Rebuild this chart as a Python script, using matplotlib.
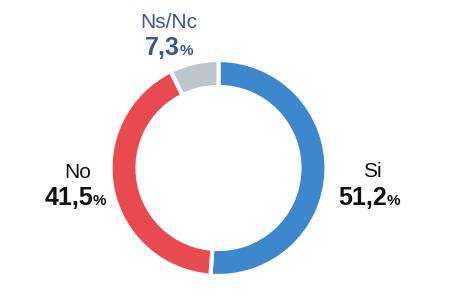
import matplotlib
matplotlib.use("Agg")
import matplotlib.pyplot as plt

labels = ["Si", "No", "Ns/Nc"]
values = [51.2, 41.5, 7.3]
colors = ["#3d88cd", "#e84b4f", "#bcc6cc"]
label_colors = ["#111111", "#111111", "#3a5595"]

W, H = 450, 303
fig = plt.figure(figsize=(4.5, 3.03), dpi=100)
ax = fig.add_axes([0, 0, 1, 1])

wedges, _ = ax.pie(values, colors=colors, startangle=90, counterclock=False,
                   center=(218.5, H - 168), radius=108,
                   wedgeprops=dict(width=27, edgecolor="white", linewidth=3))
ax.set_xlim(0, W)
ax.set_ylim(0, H)
ax.set_aspect("equal")
ax.axis("off")

fam = ["Liberation Sans Narrow", "Liberation Sans", "DejaVu Sans"]

# label x center, number/% split x, name baseline, number baseline (pixels)
pos = [(372, 387, 177, 205), (78, 93, 178, 205), (169, 180, 28, 55)]
for lab, val, (x, xs, yb1, yb2), c in zip(labels, values, pos, label_colors):
    ax.text(x, H - yb1, lab, ha="center", va="baseline", fontsize=15,
            color=c, family=fam)
    num = ("%.1f" % val).replace(".", ",")
    ax.text(xs, H - yb2, num, ha="right", va="baseline", fontsize=18,
            fontweight="bold", color=c, family=fam)
    ax.text(xs, H - yb2, "%", ha="left", va="baseline", fontsize=11,
            fontweight="bold", color=c, family=fam)

fig.savefig("out.png", dpi=100)
